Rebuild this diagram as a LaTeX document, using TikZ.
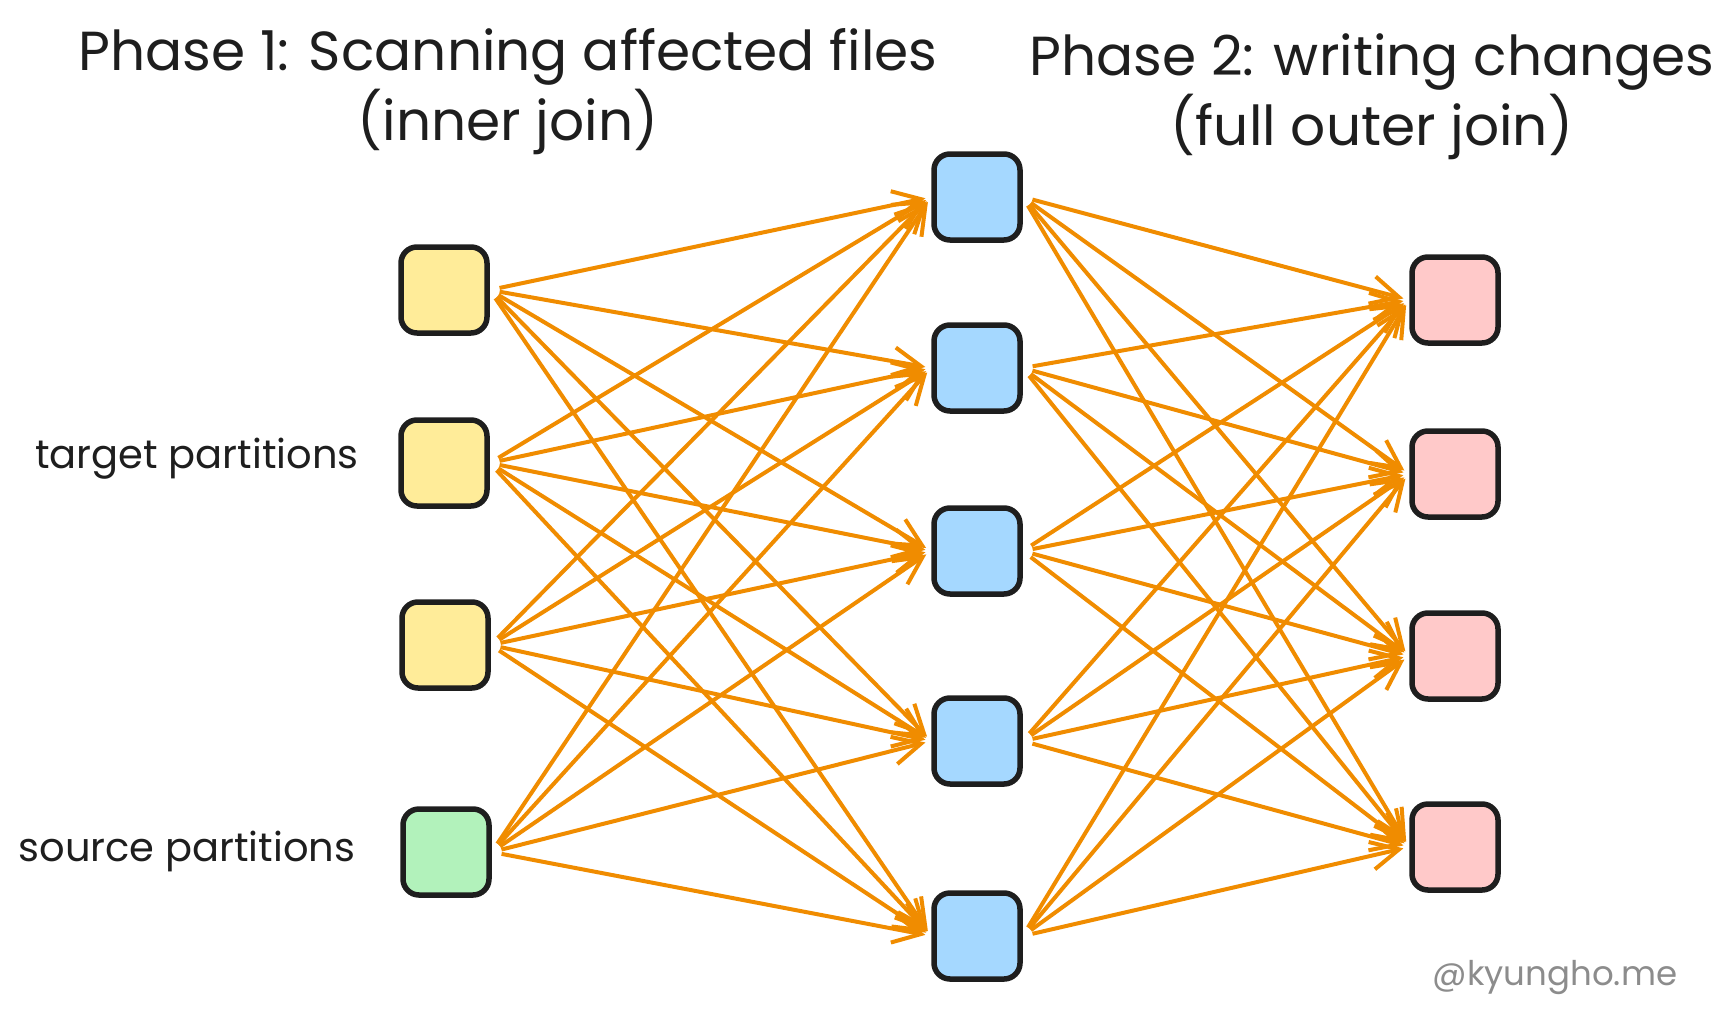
\documentclass[tikz,border=0pt]{standalone}
\usepackage{fontspec}
\setmainfont{Poppins}
\usetikzlibrary{arrows.meta}

\definecolor{ink}{HTML}{1E1E1E}
\definecolor{orng}{HTML}{F08C00}
\definecolor{yelfill}{HTML}{FFEC99}
\definecolor{grnfill}{HTML}{B2F2BB}
\definecolor{blufill}{HTML}{A5D8FF}
\definecolor{pnkfill}{HTML}{FFC9C9}
\definecolor{wmgray}{HTML}{8C8C8C}

\tikzstyle{part} = [rectangle, rounded corners=16pt, minimum width=86pt, minimum height=86pt, inner sep=0pt, draw=ink, line width=5.5pt]
\tikzstyle{tgt}  = [part, fill=yelfill]
\tikzstyle{src}  = [part, fill=grnfill]
\tikzstyle{mid}  = [part, fill=blufill]
\tikzstyle{res}  = [part, fill=pnkfill]
\tikzstyle{ttl}  = [align=center, text=ink, font=\fontsize{55}{70}\selectfont]
\tikzstyle{lbl}  = [text=ink, font=\fontsize{40}{46}\selectfont]
\tikzstyle{arrow} = [draw=orng, line width=4pt, -{Straight Barb[length=28pt,width=28pt]}, shorten <=10pt, shorten >=6pt]

\begin{document}
\begin{tikzpicture}[x=1pt, y=-1pt]
\useasboundingbox (0,0) rectangle (1732,1023);

%% Titles
\node (ttl_one) [ttl] at (508,92) {Phase 1: Scanning affected files\\(inner join)};
\node (ttl_two) [ttl] at (1372,97) {Phase 2: writing changes\\(full outer join)};

%% Left column: target and source partitions
\node (tgt_1) [tgt] at (444,290) {};
\node (tgt_2) [tgt] at (444,463) {};
\node (tgt_3) [tgt] at (445,645) {};
\node (src_1) [src] at (446,852) {};

\node (lbl_tgt) [lbl] at (197,459) {target partitions};
\node (lbl_src) [lbl] at (187,851) {source partitions};

%% Middle column
\node (mid_1) [mid] at (977,197) {};
\node (mid_2) [mid] at (977,368) {};
\node (mid_3) [mid] at (977,551) {};
\node (mid_4) [mid] at (977,741) {};
\node (mid_5) [mid] at (977,936) {};

%% Right column
\node (res_1) [res] at (1455,300) {};
\node (res_2) [res] at (1455,474) {};
\node (res_3) [res] at (1455,656) {};
\node (res_4) [res] at (1455,847) {};

%% Watermark
\node (wmark) [text=wmgray, font=\fontsize{34}{38}\selectfont] at (1555,977) {@kyungho.me};

%% Arrows, phase 1
\draw [arrow] (tgt_1.east) -- (mid_1.west);
\draw [arrow] (tgt_1.east) -- (mid_2.west);
\draw [arrow] (tgt_1.east) -- (mid_3.west);
\draw [arrow] (tgt_1.east) -- (mid_4.west);
\draw [arrow] (tgt_1.east) -- (mid_5.west);

\draw [arrow] (tgt_2.east) -- (mid_1.west);
\draw [arrow] (tgt_2.east) -- (mid_2.west);
\draw [arrow] (tgt_2.east) -- (mid_3.west);
\draw [arrow] (tgt_2.east) -- (mid_4.west);
\draw [arrow] (tgt_2.east) -- (mid_5.west);

\draw [arrow] (tgt_3.east) -- (mid_1.west);
\draw [arrow] (tgt_3.east) -- (mid_2.west);
\draw [arrow] (tgt_3.east) -- (mid_3.west);
\draw [arrow] (tgt_3.east) -- (mid_4.west);
\draw [arrow] (tgt_3.east) -- (mid_5.west);

\draw [arrow] (src_1.east) -- (mid_1.west);
\draw [arrow] (src_1.east) -- (mid_2.west);
\draw [arrow] (src_1.east) -- (mid_3.west);
\draw [arrow] (src_1.east) -- (mid_4.west);
\draw [arrow] (src_1.east) -- (mid_5.west);

%% Arrows, phase 2
\draw [arrow] (mid_1.east) -- (res_1.west);
\draw [arrow] (mid_1.east) -- (res_2.west);
\draw [arrow] (mid_1.east) -- (res_3.west);
\draw [arrow] (mid_1.east) -- (res_4.west);

\draw [arrow] (mid_2.east) -- (res_1.west);
\draw [arrow] (mid_2.east) -- (res_2.west);
\draw [arrow] (mid_2.east) -- (res_3.west);
\draw [arrow] (mid_2.east) -- (res_4.west);

\draw [arrow] (mid_3.east) -- (res_1.west);
\draw [arrow] (mid_3.east) -- (res_2.west);
\draw [arrow] (mid_3.east) -- (res_3.west);
\draw [arrow] (mid_3.east) -- (res_4.west);

\draw [arrow] (mid_4.east) -- (res_1.west);
\draw [arrow] (mid_4.east) -- (res_2.west);
\draw [arrow] (mid_4.east) -- (res_3.west);
\draw [arrow] (mid_4.east) -- (res_4.west);

\draw [arrow] (mid_5.east) -- (res_1.west);
\draw [arrow] (mid_5.east) -- (res_2.west);
\draw [arrow] (mid_5.east) -- (res_3.west);
\draw [arrow] (mid_5.east) -- (res_4.west);
\end{tikzpicture}
\end{document}
